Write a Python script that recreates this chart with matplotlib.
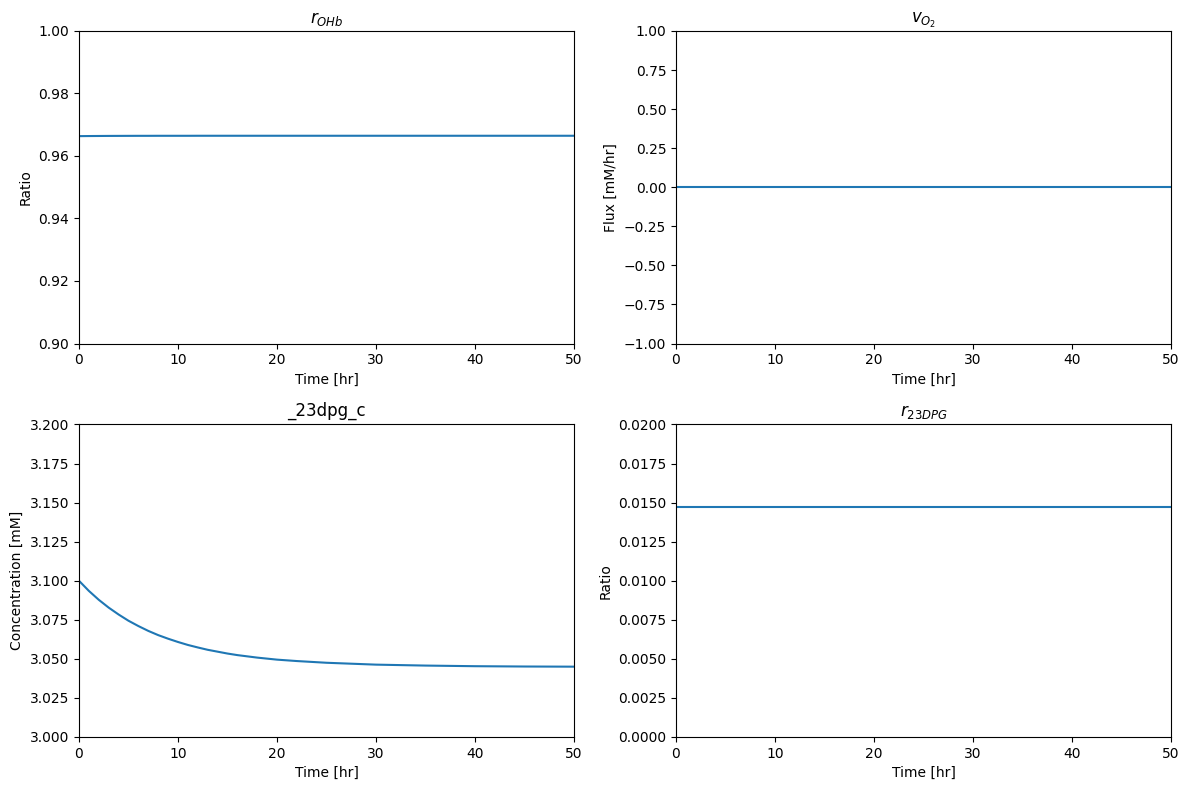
import matplotlib
matplotlib.use("Agg")
import matplotlib.pyplot as plt

# time points [hr]
t = [0, 1, 2, 3, 4, 5, 6, 7, 8, 9, 10, 11, 12, 13, 14, 15, 16, 18, 20, 22, 25, 30, 35, 40, 45, 50]

# oxyhemoglobin ratio
r_ohb = [0.96635, 0.96638, 0.96640, 0.96642, 0.96643, 0.96644, 0.96645, 0.96645, 0.96646,
         0.96646, 0.96646, 0.96646, 0.96647, 0.96647, 0.96647, 0.96647, 0.96647, 0.96647,
         0.96647, 0.96647, 0.96647, 0.96647, 0.96647, 0.96647, 0.96647, 0.96647]

# oxygen flux
v_o2 = [0.0] * len(t)

# 2,3-DPG concentration
dpg23 = [3.1000, 3.0935, 3.0878, 3.0828, 3.0784, 3.0744, 3.0710, 3.0679, 3.0652, 3.0629,
         3.0608, 3.0589, 3.0573, 3.0558, 3.0546, 3.0534, 3.0524, 3.0508, 3.0495, 3.0486,
         3.0475, 3.0463, 3.0457, 3.0453, 3.0451, 3.0450]

# 2,3-DPG ratio
r_23dpg = [0.0147] * len(t)

fig, axes = plt.subplots(2, 2, figsize=(11.89, 7.9), dpi=100)
fig.subplots_adjust(left=0.0664, right=0.9849, top=0.9608, bottom=0.0671,
                    wspace=0.206, hspace=0.259)

ax = axes[0, 0]
ax.plot(t, r_ohb)
ax.set_xlim(0, 50)
ax.set_ylim(0.90, 1.00)
ax.set_title("$r_{OHb}$")
ax.set_xlabel("Time [hr]")
ax.set_ylabel("Ratio")

ax = axes[0, 1]
ax.plot(t, v_o2)
ax.set_xlim(0, 50)
ax.set_ylim(-1, 1)
ax.set_title("$v_{O_2}$")
ax.set_xlabel("Time [hr]")
ax.set_ylabel("Flux [mM/hr]")

ax = axes[1, 0]
ax.plot(t, dpg23)
ax.set_xlim(0, 50)
ax.set_ylim(3.0, 3.2)
ax.set_title("_23dpg_c")
ax.set_xlabel("Time [hr]")
ax.set_ylabel("Concentration [mM]")

ax = axes[1, 1]
ax.plot(t, r_23dpg)
ax.set_xlim(0, 50)
ax.set_ylim(0, 0.02)
ax.set_title("$r_{23DPG}$")
ax.set_xlabel("Time [hr]")
ax.set_ylabel("Ratio")

plt.savefig("out.png")
